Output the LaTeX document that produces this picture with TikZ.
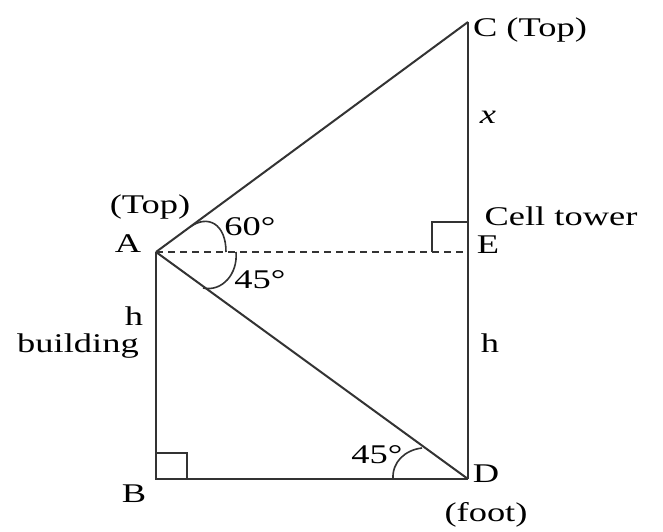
\documentclass[tikz,border=0pt]{standalone}
\usepackage{fontspec}
\setmainfont{Liberation Serif}
\begin{document}
\begin{tikzpicture}[x=1pt,y=-1pt,
  ln/.style={line width=2pt,draw=black!80},
  thin/.style={line width=1.6pt,draw=black!80},
  lbl/.style={anchor=base,inner sep=0pt,font=\fontsize{27}{30}\selectfont,text=black},
  ]
\newcommand{\W}[1]{\scalebox{1.35}[1]{#1}}
\useasboundingbox (0,0) rectangle (663,532);
\coordinate (A) at (156,252);
\coordinate (B) at (156,479);
\coordinate (D) at (468,479);
\coordinate (C) at (468,22);
\coordinate (E) at (468,252);
% main lines
\draw[ln] (A) -- (C);
\draw[ln] (C) -- (D);
\draw[ln] (A) -- (B) -- (D);
\draw[ln] (A) -- (D);
\draw[thin,dash pattern=on 7pt off 5pt] (A) -- (E);
% right angle marks
\draw[thin] (156,453) -- (187,453) -- (187,479);
\draw[thin] (432,252) -- (432,222) -- (468,222);
% angle arcs
\draw[thin] (190,227) .. controls (208,214) and (226,224) .. (226,252);
\draw[thin] (236,252) .. controls (238,274) and (222,292) .. (203,288);
\draw[thin] (393,479) .. controls (392,462) and (405,450) .. (422,448);
% labels
\node[lbl] (tA) at (150,213) {\W{(Top)}};
\node[lbl] (lA) at (128,252) {\W{A}};
\node[lbl] (a60) at (250,235) {\W{60°}};
\node[lbl] (a45a) at (260,288) {\W{45°}};
\node[lbl] (ct) at (561,225) {\W{Cell tower}};
\node[lbl] (lE) at (488,253) {\W{E}};
\node[lbl] (lC) at (530,37) {\W{C (Top)}};
\node[lbl] (lx) at (488,123) {\W{\itshape x}};
\node[lbl] (hL) at (134,325) {\W{h}};
\node[lbl] (bld) at (78,352) {\W{building}};
\node[lbl] (hR) at (490,352) {\W{h}};
\node[lbl] (lB) at (134,502) {\W{B}};
\node[lbl] (lD) at (486,482) {\W{D}};
\node[lbl] (ft) at (486,521) {\W{(foot)}};
\node[lbl] (a45d) at (377,463) {\W{45°}};
\end{tikzpicture}
\end{document}
